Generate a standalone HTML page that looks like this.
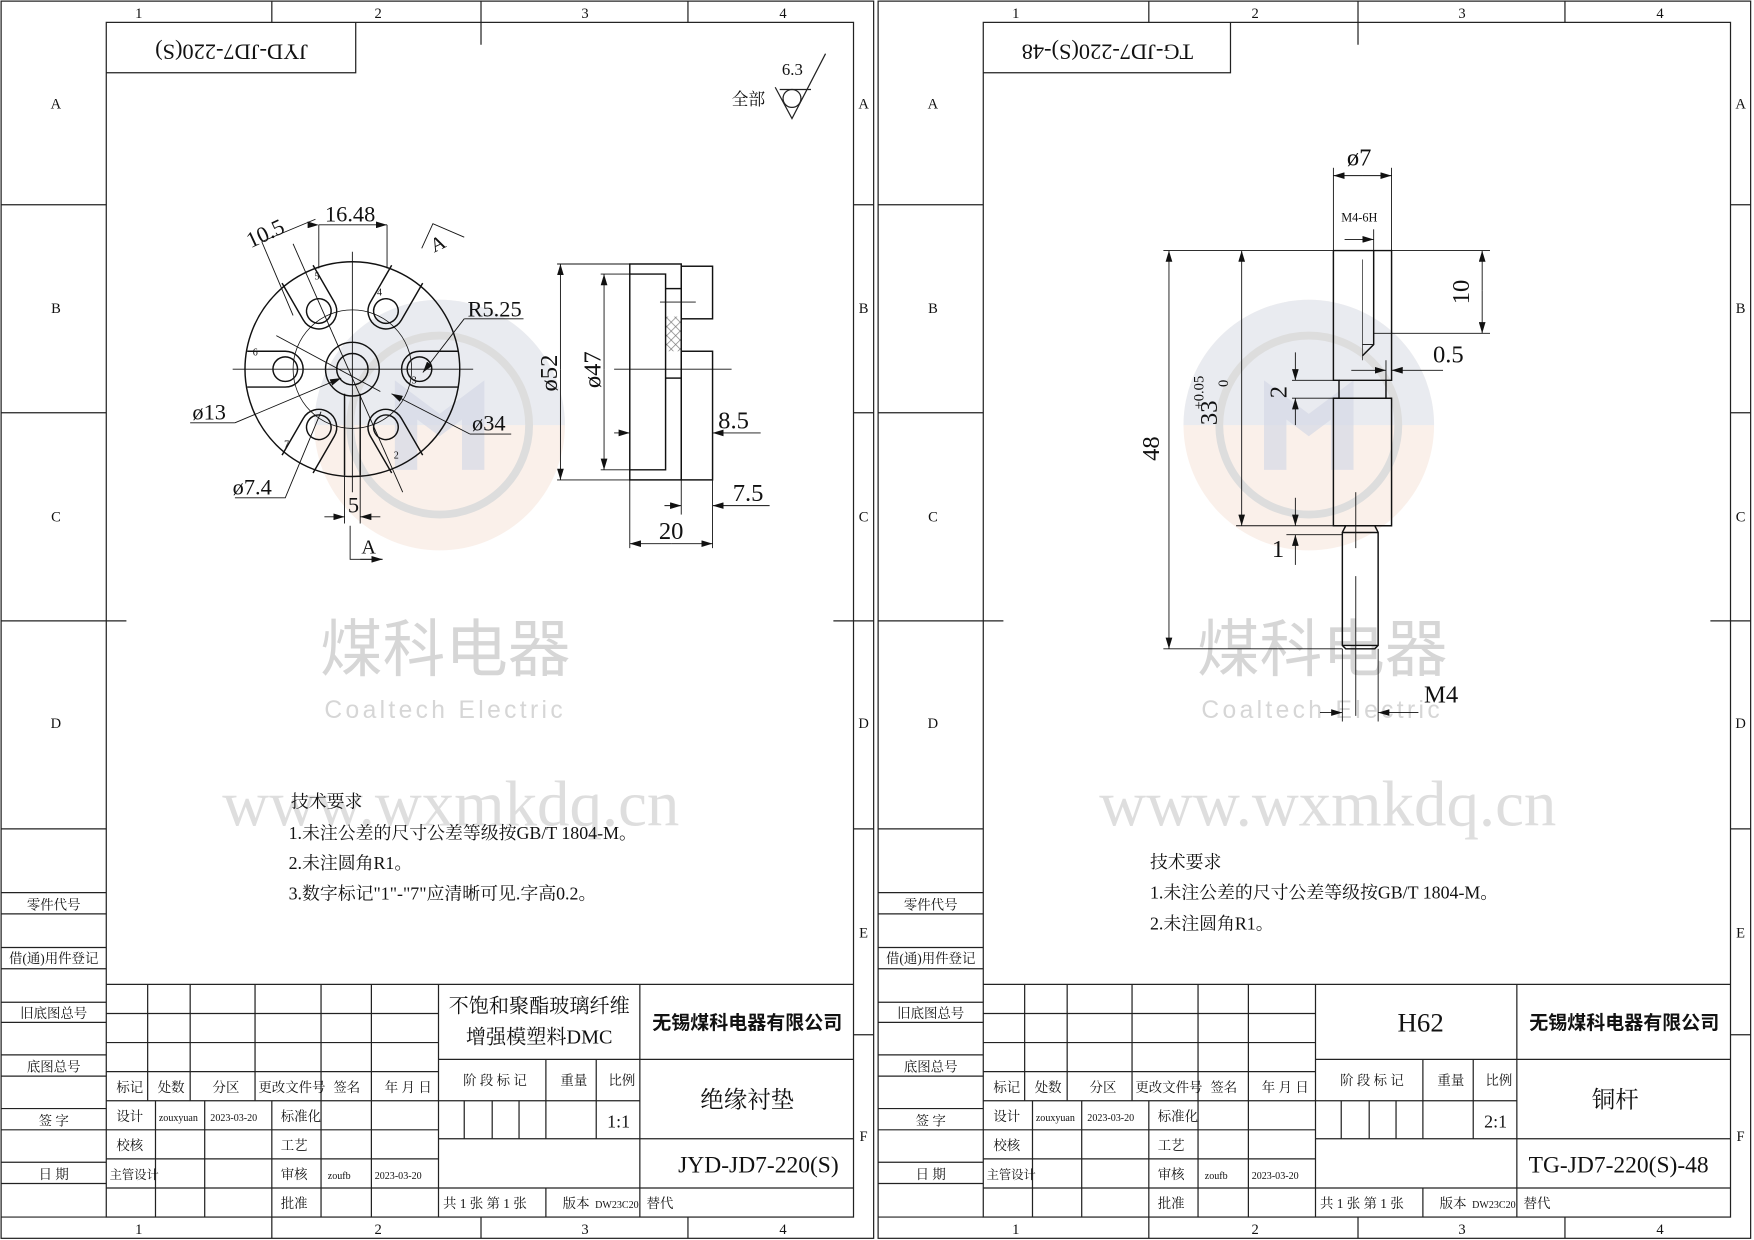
<!DOCTYPE html>
<html><head><meta charset="utf-8"><style>
html,body{margin:0;padding:0;background:#fff;}
svg{display:block;}
text{font-family:"Liberation Serif","Noto Serif CJK SC","Noto Sans CJK SC",serif;fill:#111;}
.s{font-family:"Liberation Sans","Noto Sans CJK SC",sans-serif;}
</style></head><body>
<svg width="1754" height="1240" viewBox="0 0 1568 1108.5" xmlns="http://www.w3.org/2000/svg">
<defs>
<pattern id="hatch" width="8" height="8" patternUnits="userSpaceOnUse">
<path d="M0 0L8 8M8 0L0 8" stroke="#777" stroke-width="0.6"/>
</pattern>
<marker id="ar" markerWidth="10" markerHeight="6" refX="10" refY="3" orient="auto" markerUnits="userSpaceOnUse">
<path d="M0 0L10 3L0 6z" fill="#111"/></marker>
<g id="frame" fill="none" stroke="#222" stroke-width="1.1">
<rect x="1" y="1" width="780" height="1106"/>
<rect x="95" y="20" width="668" height="1068"/>
<line x1="243" y1="1" x2="243" y2="20"/><line x1="430" y1="1" x2="430" y2="40"/><line x1="615" y1="1" x2="615" y2="20"/>
<line x1="243" y1="1088" x2="243" y2="1107"/><line x1="430" y1="1088" x2="430" y2="1107"/><line x1="615" y1="1088" x2="615" y2="1107"/>
<line x1="1" y1="183" x2="95" y2="183"/><line x1="1" y1="369" x2="95" y2="369"/><line x1="1" y1="555" x2="113" y2="555"/><line x1="1" y1="741" x2="95" y2="741"/>
<line x1="763" y1="183" x2="781" y2="183"/><line x1="763" y1="369" x2="781" y2="369"/><line x1="745" y1="555" x2="781" y2="555"/><line x1="763" y1="741" x2="781" y2="741"/><line x1="763" y1="925" x2="781" y2="925"/>
<line x1="1" y1="798" x2="95" y2="798"/><line x1="1" y1="817" x2="95" y2="817"/>
<line x1="1" y1="847" x2="95" y2="847"/><line x1="1" y1="866" x2="95" y2="866"/>
<line x1="1" y1="896" x2="95" y2="896"/><line x1="1" y1="914" x2="95" y2="914"/>
<line x1="1" y1="943" x2="95" y2="943"/><line x1="1" y1="962" x2="95" y2="962"/>
<line x1="1" y1="991" x2="95" y2="991"/><line x1="1" y1="1010" x2="95" y2="1010"/>
<line x1="1" y1="1039" x2="95" y2="1039"/><line x1="1" y1="1058" x2="95" y2="1058"/>
<line x1="1" y1="1088" x2="95" y2="1088"/>
<line x1="95" y1="880" x2="763" y2="880"/>
<line x1="95" y1="906" x2="392" y2="906"/><line x1="95" y1="932" x2="392" y2="932"/><line x1="95" y1="958" x2="392" y2="958"/>
<line x1="95" y1="984" x2="392" y2="984"/><line x1="95" y1="1010" x2="392" y2="1010"/><line x1="95" y1="1036" x2="392" y2="1036"/><line x1="95" y1="1062" x2="763" y2="1062"/>
<line x1="132" y1="880" x2="132" y2="984"/><line x1="170" y1="880" x2="170" y2="984"/><line x1="228" y1="880" x2="228" y2="984"/>
<line x1="287" y1="880" x2="287" y2="1088"/><line x1="332" y1="880" x2="332" y2="1088"/><line x1="392" y1="880" x2="392" y2="1088"/>
<line x1="139" y1="984" x2="139" y2="1088"/><line x1="183" y1="984" x2="183" y2="1088"/><line x1="243" y1="984" x2="243" y2="1088"/>
<line x1="572" y1="880" x2="572" y2="1088"/>
<line x1="392" y1="947" x2="763" y2="947"/>
<line x1="392" y1="984" x2="572" y2="984"/><line x1="392" y1="1018" x2="763" y2="1018"/>
<line x1="415" y1="984" x2="415" y2="1018"/><line x1="440" y1="984" x2="440" y2="1018"/><line x1="464" y1="984" x2="464" y2="1018"/>
<line x1="488" y1="947" x2="488" y2="1018"/><line x1="533" y1="947" x2="533" y2="1018"/>
<line x1="488" y1="1062" x2="488" y2="1088"/>
</g>
<g id="wm">
<circle cx="0" cy="0" r="112" fill="#f5e2d6" opacity="0.5"/>
<path d="M-112 0A112 112 0 0 1 112 0z" fill="#dde7f3" opacity="0.6"/>
<circle cx="0" cy="0" r="80" fill="none" stroke="#ddd" stroke-width="7"/>
<path d="M-40 40V-40L0 -10L40 -40V40H20V-5L0 10L-20 -5V40z" fill="#d4d8e6" opacity="0.7"/>
</g>
</defs>
<rect width="1568" height="1108.5" fill="#fff"/>
<use href="#wm" x="393" y="380"/>
<use href="#wm" x="1170" y="380"/>
<g>
<text x="398" y="600" font-size="56" text-anchor="middle" class="s" style="fill:#d6d6d6">煤科电器</text>
<text x="398" y="642" font-size="22" text-anchor="middle" class="s" style="fill:#d6d6d6;letter-spacing:3px">Coaltech Electric</text>
<text x="403" y="738" font-size="58" text-anchor="middle" style="fill:#dedede">www.wxmkdq.cn</text>
<text x="1182" y="600" font-size="56" text-anchor="middle" class="s" style="fill:#d6d6d6">煤科电器</text>
<text x="1182" y="642" font-size="22" text-anchor="middle" class="s" style="fill:#d6d6d6;letter-spacing:3px">Coaltech Electric</text>
<text x="1187" y="738" font-size="58" text-anchor="middle" style="fill:#dedede">www.wxmkdq.cn</text>
</g>
<use href="#frame"/>
<use href="#frame" x="784"/>
<g font-size="13" text-anchor="middle">
<text x="124" y="16">1</text><text x="338" y="16">2</text><text x="523" y="16">3</text><text x="700" y="16">4</text>
<text x="124" y="1103">1</text><text x="338" y="1103">2</text><text x="523" y="1103">3</text><text x="700" y="1103">4</text>
<text x="908" y="16">1</text><text x="1122" y="16">2</text><text x="1307" y="16">3</text><text x="1484" y="16">4</text>
<text x="908" y="1103">1</text><text x="1122" y="1103">2</text><text x="1307" y="1103">3</text><text x="1484" y="1103">4</text>
<text x="50" y="97">A</text><text x="50" y="280">B</text><text x="50" y="466">C</text><text x="50" y="651">D</text>
<text x="772" y="97">A</text><text x="772" y="280">B</text><text x="772" y="466">C</text><text x="772" y="651">D</text><text x="772" y="838">E</text><text x="772" y="1020">F</text>
<text x="834" y="97">A</text><text x="834" y="280">B</text><text x="834" y="466">C</text><text x="834" y="651">D</text>
<text x="1556" y="97">A</text><text x="1556" y="280">B</text><text x="1556" y="466">C</text><text x="1556" y="651">D</text><text x="1556" y="838">E</text><text x="1556" y="1020">F</text>
</g>
<g font-size="12" text-anchor="middle">
<text x="48" y="813">零件代号</text><text x="48" y="861">借(通)用件登记</text><text x="48" y="910">旧底图总号</text><text x="48" y="958">底图总号</text><text x="48" y="1006">签 字</text><text x="48" y="1054">日 期</text>
<text x="832" y="813">零件代号</text><text x="832" y="861">借(通)用件登记</text><text x="832" y="910">旧底图总号</text><text x="832" y="958">底图总号</text><text x="832" y="1006">签 字</text><text x="832" y="1054">日 期</text>
</g>
<g font-size="12">
<g>
<text x="104" y="976">标记</text><text x="141" y="976">处数</text><text x="190" y="976">分区</text><text x="231" y="976">更改文件号</text><text x="298" y="976">签名</text><text x="344" y="976">年 月 日</text>
<text x="104" y="1002">设计</text><text x="142" y="1002" font-size="9">zouxyuan</text><text x="188" y="1002" font-size="9">2023-03-20</text><text x="251" y="1002">标准化</text>
<text x="104" y="1028">校核</text><text x="251" y="1028">工艺</text>
<text x="98" y="1054" font-size="11">主管设计</text><text x="251" y="1054">审核</text><text x="293" y="1054" font-size="9">zoufb</text><text x="335" y="1054" font-size="9">2023-03-20</text>
<text x="251" y="1080">批准</text>
<text x="414" y="970">阶 段 标 记</text><text x="501" y="970">重量</text><text x="544" y="970">比例</text>
<text x="396" y="1080">共 1 张  第 1 张</text><text x="503" y="1080">版本</text><text x="532" y="1080" font-size="9">DW23C20</text><text x="578" y="1080">替代</text>
</g>
<g transform="translate(784 0)">
<text x="104" y="976">标记</text><text x="141" y="976">处数</text><text x="190" y="976">分区</text><text x="231" y="976">更改文件号</text><text x="298" y="976">签名</text><text x="344" y="976">年 月 日</text>
<text x="104" y="1002">设计</text><text x="142" y="1002" font-size="9">zouxyuan</text><text x="188" y="1002" font-size="9">2023-03-20</text><text x="251" y="1002">标准化</text>
<text x="104" y="1028">校核</text><text x="251" y="1028">工艺</text>
<text x="98" y="1054" font-size="11">主管设计</text><text x="251" y="1054">审核</text><text x="293" y="1054" font-size="9">zoufb</text><text x="335" y="1054" font-size="9">2023-03-20</text>
<text x="251" y="1080">批准</text>
<text x="414" y="970">阶 段 标 记</text><text x="501" y="970">重量</text><text x="544" y="970">比例</text>
<text x="396" y="1080">共 1 张  第 1 张</text><text x="503" y="1080">版本</text><text x="532" y="1080" font-size="9">DW23C20</text><text x="578" y="1080">替代</text>
</g>
</g>
<g text-anchor="middle">
<text x="482" y="905" font-size="18">不饱和聚酯玻璃纤维</text>
<text x="482" y="933" font-size="18">增强模塑料DMC</text>
<text x="668" y="920" font-size="17" class="s" font-weight="bold">无锡煤科电器有限公司</text>
<text x="553" y="1008" font-size="16">1:1</text>
<text x="668" y="990" font-size="21">绝缘衬垫</text>
<text x="678" y="1048" font-size="21">JYD-JD7-220(S)</text>
<text x="1270" y="922" font-size="24">H62</text>
<text x="1452" y="920" font-size="17" class="s" font-weight="bold">无锡煤科电器有限公司</text>
<text x="1337" y="1008" font-size="16">2:1</text>
<text x="1444" y="990" font-size="21">铜杆</text>
<text x="1447" y="1048" font-size="21">TG-JD7-220(S)-48</text>
</g>
<g fill="none" stroke="#222" stroke-width="1.1">
<polyline points="95,65 318,65 318,20"/>
<polyline points="879,65 1100,65 1100,20"/>
</g>
<text transform="translate(207 40) rotate(180)" font-size="20" text-anchor="middle">JYD-JD7-220(S)</text>
<text transform="translate(990 40) rotate(180)" font-size="20" text-anchor="middle">TG-JD7-220(S)-48</text>
<text x="654" y="94" font-size="15">全部</text>
<text x="699" y="67" font-size="15">6.3</text>
<g fill="none" stroke="#222" stroke-width="1.1">
<polyline points="693,78 708,106 738,48"/><line x1="697" y1="80" x2="725" y2="80"/><circle cx="708" cy="88" r="8"/>
</g>
<g font-size="16">
<text x="260" y="722">技术要求</text>
<text x="258" y="750">1.未注公差的尺寸公差等级按GB/T 1804-M。</text>
<text x="258" y="777">2.未注圆角R1。</text>
<text x="258" y="804">3.数字标记"1"-"7"应清晰可见.字高0.2。</text>
<text x="1028" y="776">技术要求</text>
<text x="1028" y="803">1.未注公差的尺寸公差等级按GB/T 1804-M。</text>
<text x="1028" y="831">2.未注圆角R1。</text>
</g>
<g fill="none" stroke="#111" stroke-width="1.3">
<circle cx="315" cy="330" r="96"/>
<circle cx="315" cy="330" r="53" stroke-width="0.7"/>
<circle cx="315" cy="330" r="24"/>
<circle cx="315" cy="330" r="14"/>
<g transform="translate(315 330)">
<g transform="rotate(0) translate(60 0)"><path d="M34 -16H0A16 16 0 0 0 0 16H34"/><circle r="11"/></g>
<g transform="rotate(-60) translate(60 0)"><path d="M38 -16H0A16 16 0 0 0 0 16H38"/><circle r="11"/></g>
<g transform="rotate(-120) translate(60 0)"><path d="M38 -16H0A16 16 0 0 0 0 16H38"/><circle r="11"/></g>
<g transform="rotate(180) translate(60 0)"><path d="M34 -16H0A16 16 0 0 0 0 16H34"/><circle r="11"/></g>
<g transform="rotate(120) translate(60 0)"><path d="M38 -16H0A16 16 0 0 0 0 16H38"/><circle r="11"/></g>
<g transform="rotate(60) translate(60 0)"><path d="M38 -16H0A16 16 0 0 0 0 16H38"/><circle r="11"/></g>
</g>
<path d="M308 352V425M322 352V425"/>
</g>
<g fill="none" stroke="#111" stroke-width="0.8">
<line x1="208" y1="330" x2="423" y2="330"/><line x1="315" y1="225" x2="315" y2="440"/>
<line x1="285" y1="201" x2="285" y2="240"/><line x1="346" y1="201" x2="346" y2="240"/>
<line x1="285" y1="201" x2="346" y2="201" marker-end="url(#ar)" marker-start="url(#ar)"/>
<line x1="234" y1="216" x2="282" y2="196"/><line x1="234" y1="216" x2="262" y2="282"/>
<line x1="262" y1="218" x2="360" y2="440"/>
<polyline points="415,285 468,285"/><line x1="415" y1="285" x2="378" y2="333" marker-end="url(#ar)"/>
<polyline points="170,378 210,378"/><line x1="210" y1="378" x2="305" y2="338" marker-end="url(#ar)"/>
<polyline points="420,388 457,388"/><line x1="420" y1="388" x2="350" y2="352" marker-end="url(#ar)"/>
<line x1="247" y1="300" x2="340" y2="350"/>
<polyline points="210,445 255,445 287,368"/>
<line x1="290" y1="462" x2="308" y2="462" marker-end="url(#ar)"/><line x1="340" y1="462" x2="322" y2="462" marker-end="url(#ar)"/>
<line x1="308" y1="425" x2="308" y2="468"/><line x1="322" y1="425" x2="322" y2="468"/>
<polyline points="313,470 313,500 342,500"/><line x1="322" y1="500" x2="342" y2="500" marker-end="url(#ar)"/>
<polyline points="377,222 387,200 415,212"/>
</g>
<g font-size="20">
<text x="313" y="198" text-anchor="middle">16.48</text>
<text transform="translate(224 222) rotate(-25)">10.5</text>
<text x="418" y="283">R5.25</text>
<text x="172" y="375">ø13</text>
<text x="422" y="385">ø34</text>
<text x="208" y="442">ø7.4</text>
<text x="316" y="458" text-anchor="middle">5</text>
<text x="323" y="495" font-size="18">A</text>
<text transform="translate(388 226) rotate(-25)" font-size="18">A</text>
</g>
<g font-size="9">
<text x="368" y="343">3</text><text x="337" y="264">4</text><text x="281" y="250">5</text><text x="226" y="318">6</text><text x="254" y="400">7</text><text x="352" y="410">2</text>
</g>
<rect x="595" y="283" width="14" height="31" fill="url(#hatch)"/>
<g fill="none" stroke="#111" stroke-width="1.3">
<rect x="563" y="236" width="46" height="193"/>
<polyline points="563,245 595,245 595,420 563,420"/>
<rect x="609" y="238" width="28" height="47"/>
<rect x="609" y="314" width="28" height="115"/>
<line x1="595" y1="258" x2="609" y2="258"/><line x1="595" y1="338" x2="609" y2="338"/>
</g>
<g fill="none" stroke="#111" stroke-width="0.8">
<line x1="549" y1="330" x2="654" y2="330"/><line x1="590" y1="270" x2="622" y2="270"/>
<line x1="498" y1="236" x2="563" y2="236"/><line x1="498" y1="429" x2="563" y2="429"/>
<line x1="501" y1="330" x2="501" y2="236" marker-end="url(#ar)"/><line x1="501" y1="330" x2="501" y2="429" marker-end="url(#ar)"/>
<line x1="537" y1="245" x2="563" y2="245"/><line x1="537" y1="420" x2="563" y2="420"/>
<line x1="540" y1="330" x2="540" y2="245" marker-end="url(#ar)"/><line x1="540" y1="330" x2="540" y2="420" marker-end="url(#ar)"/>
<line x1="549" y1="387" x2="563" y2="387" marker-end="url(#ar)"/><line x1="680" y1="387" x2="637" y2="387" marker-end="url(#ar)"/>
<line x1="594" y1="452" x2="609" y2="452" marker-end="url(#ar)"/><line x1="688" y1="452" x2="637" y2="452" marker-end="url(#ar)"/>
<line x1="609" y1="429" x2="609" y2="460"/><line x1="563" y1="429" x2="563" y2="490"/><line x1="637" y1="429" x2="637" y2="490"/>
<line x1="600" y1="486" x2="563" y2="486" marker-end="url(#ar)"/><line x1="600" y1="486" x2="637" y2="486" marker-end="url(#ar)"/>
</g>
<g font-size="22">
<text transform="translate(498 350) rotate(-90)">ø52</text>
<text transform="translate(537 347) rotate(-90)">ø47</text>
<text x="642" y="383">8.5</text>
<text x="655" y="448">7.5</text>
<text x="589" y="482">20</text>
</g>
<g fill="none" stroke="#111" stroke-width="1.3">
<polyline points="1192,224 1244,224 1244,340 1239,340 1239,356 1244,356 1244,470 1192,470 1192,356 1197,356 1197,340 1192,340 1192,224"/>
<line x1="1197" y1="340" x2="1239" y2="340"/><line x1="1197" y1="356" x2="1239" y2="356"/>
<polyline points="1228,224 1228,308 1218,318"/>
<polyline points="1203,470 1200,476 1200,577 1203,580 1229,580 1232,577 1232,476 1229,470"/>
<line x1="1200" y1="476" x2="1232" y2="476"/><line x1="1200" y1="577" x2="1232" y2="577"/>
</g>
<g fill="none" stroke="#111" stroke-width="0.8">
<line x1="1218" y1="308" x2="1228" y2="308"/>
<line x1="1218" y1="232" x2="1218" y2="322" stroke-width="0.6"/>
<line x1="1212" y1="440" x2="1212" y2="490"/><line x1="1212" y1="515" x2="1212" y2="640"/>
<line x1="1192" y1="150" x2="1192" y2="224"/><line x1="1244" y1="150" x2="1244" y2="224"/>
<line x1="1218" y1="157" x2="1192" y2="157" marker-end="url(#ar)"/><line x1="1218" y1="157" x2="1244" y2="157" marker-end="url(#ar)"/>
<line x1="1202" y1="214" x2="1228" y2="214" marker-end="url(#ar)"/><line x1="1228" y1="205" x2="1228" y2="224"/>
<line x1="1040" y1="224" x2="1192" y2="224"/><line x1="1040" y1="580" x2="1200" y2="580"/>
<line x1="1045" y1="400" x2="1045" y2="224" marker-end="url(#ar)"/><line x1="1045" y1="400" x2="1045" y2="580" marker-end="url(#ar)"/>
<line x1="1110" y1="350" x2="1110" y2="224" marker-end="url(#ar)"/><line x1="1110" y1="350" x2="1110" y2="470" marker-end="url(#ar)"/>
<line x1="1105" y1="470" x2="1192" y2="470"/>
<line x1="1155" y1="340" x2="1197" y2="340"/><line x1="1155" y1="356" x2="1197" y2="356"/>
<line x1="1158" y1="315" x2="1158" y2="340" marker-end="url(#ar)"/><line x1="1158" y1="380" x2="1158" y2="356" marker-end="url(#ar)"/>
<line x1="1150" y1="478" x2="1200" y2="478"/>
<line x1="1158" y1="445" x2="1158" y2="470" marker-end="url(#ar)"/><line x1="1158" y1="505" x2="1158" y2="478" marker-end="url(#ar)"/>
<line x1="1244" y1="224" x2="1332" y2="224"/><line x1="1228" y1="298" x2="1332" y2="298"/>
<line x1="1325" y1="260" x2="1325" y2="224" marker-end="url(#ar)"/><line x1="1325" y1="260" x2="1325" y2="298" marker-end="url(#ar)"/>
<line x1="1208" y1="331" x2="1239" y2="331" marker-end="url(#ar)"/><line x1="1290" y1="331" x2="1244" y2="331" marker-end="url(#ar)"/>
<line x1="1239" y1="322" x2="1239" y2="340"/>
<line x1="1200" y1="580" x2="1200" y2="645"/><line x1="1232" y1="580" x2="1232" y2="645"/>
<line x1="1180" y1="637" x2="1200" y2="637" marker-end="url(#ar)"/><line x1="1268" y1="637" x2="1232" y2="637" marker-end="url(#ar)"/>
</g>
<g font-size="22">
<text x="1204" y="148">ø7</text>
<text x="1199" y="198" font-size="11">M4-6H</text>
<text transform="translate(1036 412) rotate(-90)">48</text>
<text transform="translate(1088 380) rotate(-90)">33</text>
<text transform="translate(1076 366) rotate(-90)" font-size="13">+0.05</text>
<text transform="translate(1098 346) rotate(-90)" font-size="13">0</text>
<text transform="translate(1150 356) rotate(-90)">2</text>
<text x="1137" y="498">1</text>
<text transform="translate(1313 272) rotate(-90)">10</text>
<text x="1281" y="324">0.5</text>
<text x="1273" y="628">M4</text>
</g>
</svg>
</body></html>
